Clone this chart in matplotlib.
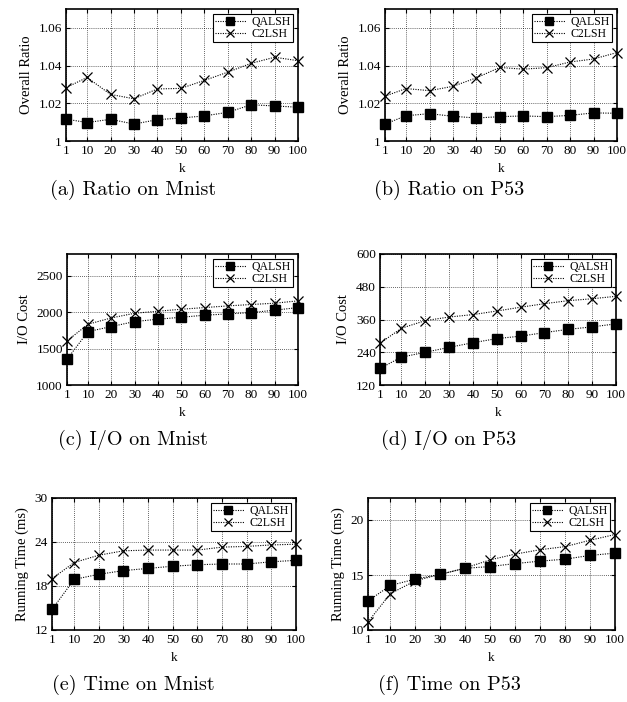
import matplotlib
matplotlib.use('Agg')
import matplotlib.pyplot as plt

# ---------------- data ----------------
k = [1, 10, 20, 30, 40, 50, 60, 70, 80, 90, 100]
xtick_labels = ['1', '10', '20', '30', '40', '50', '60', '70', '80', '90', '100']

ratio_mnist_qalsh = [1.0116, 1.0098, 1.0115, 1.0090, 1.0113, 1.0122, 1.0133, 1.0152, 1.0192, 1.0186, 1.0179]
ratio_mnist_c2lsh = [1.0283, 1.0337, 1.0247, 1.0224, 1.0276, 1.0279, 1.0321, 1.0365, 1.0412, 1.0444, 1.0426]

ratio_p53_qalsh = [1.0090, 1.0134, 1.0145, 1.0131, 1.0122, 1.0129, 1.0133, 1.0129, 1.0136, 1.0149, 1.0147]
ratio_p53_c2lsh = [1.0238, 1.0278, 1.0267, 1.0290, 1.0335, 1.0390, 1.0381, 1.0389, 1.0419, 1.0435, 1.0469]

io_mnist_qalsh = [1353, 1734, 1803, 1872, 1904, 1931, 1959, 1977, 1995, 2028, 2064]
io_mnist_c2lsh = [1606, 1835, 1922, 1986, 2014, 2041, 2064, 2087, 2106, 2124, 2156]

io_p53_qalsh = [181, 222, 240, 258, 275, 290, 299, 312, 324, 333, 344]
io_p53_c2lsh = [273, 328, 356, 369, 378, 391, 405, 418, 429, 436, 445]

time_mnist_qalsh = [14.8, 18.9, 19.6, 20.1, 20.4, 20.7, 20.9, 21.0, 21.0, 21.3, 21.5]
time_mnist_c2lsh = [19.0, 21.2, 22.2, 22.8, 22.9, 22.9, 22.9, 23.3, 23.4, 23.6, 23.7]

time_p53_qalsh = [12.64, 14.05, 14.63, 15.06, 15.61, 15.77, 16.04, 16.26, 16.44, 16.78, 16.99]
time_p53_c2lsh = [10.74, 13.31, 14.48, 15.06, 15.64, 16.38, 16.90, 17.30, 17.58, 18.16, 18.68]

series_names = ['QALSH', 'C2LSH']

ratio_ticks = [1, 1.02, 1.04, 1.06]
ratio_ticklabels = ['1', '1.02', '1.04', '1.06']
io_mnist_ticks = [1000, 1500, 2000, 2500]
io_p53_ticks = [120, 240, 360, 480, 600]
time_mnist_ticks = [12, 18, 24, 30]
time_p53_ticks = [10, 15, 20]

captions = ['(a) Ratio on Mnist', '(b) Ratio on P53', '(c) I/O on Mnist',
            '(d) I/O on P53', '(e) Time on Mnist', '(f) Time on P53']

# ---------------- layout ----------------
W, H = 627, 702
fig = plt.figure(figsize=(W / 100, H / 100), dpi=100)

SERIF = ['Liberation Serif', 'DejaVu Serif']
TICK_FS = 9.5
LABEL_FS = 10.5


def add_ax(l, r, t, b):
    return fig.add_axes([l / W, 1 - b / H, (r - l) / W, (b - t) / H])


panels = [
    dict(box=(66, 298, 9, 141), q=ratio_mnist_qalsh, c=ratio_mnist_c2lsh, ylim=(1, 1.07),
         yt=ratio_ticks, ytl=ratio_ticklabels, ylabel='Overall Ratio'),
    dict(box=(385, 617, 9, 141), q=ratio_p53_qalsh, c=ratio_p53_c2lsh, ylim=(1, 1.07),
         yt=ratio_ticks, ytl=ratio_ticklabels, ylabel='Overall Ratio'),
    dict(box=(67, 298, 254, 385), q=io_mnist_qalsh, c=io_mnist_c2lsh, ylim=(1000, 2800),
         yt=io_mnist_ticks, ytl=[str(v) for v in io_mnist_ticks], ylabel='I/O Cost'),
    dict(box=(380, 616, 254, 385), q=io_p53_qalsh, c=io_p53_c2lsh, ylim=(120, 600),
         yt=io_p53_ticks, ytl=[str(v) for v in io_p53_ticks], ylabel='I/O Cost'),
    dict(box=(52, 296, 498, 630), q=time_mnist_qalsh, c=time_mnist_c2lsh, ylim=(12, 30),
         yt=time_mnist_ticks, ytl=[str(v) for v in time_mnist_ticks], ylabel='Running Time (ms)'),
    dict(box=(368, 615, 498, 630), q=time_p53_qalsh, c=time_p53_c2lsh, ylim=(10, 22),
         yt=time_p53_ticks, ytl=[str(v) for v in time_p53_ticks], ylabel='Running Time (ms)'),
]

caption_x = [133, 449]
caption_y = [190, 440, 685]

dot = (0, (1, 1.2))

for i, p in enumerate(panels):
    l, r, t, b = p['box']
    ax = add_ax(l, r, t, b)
    ax.plot(k, p['q'], color='black', lw=0.8, ls=dot, marker='s', ms=7,
            mfc='black', mec='black', label=series_names[0], zorder=3, clip_on=False)
    ax.plot(k, p['c'], color='black', lw=0.8, ls=dot, marker='x', ms=7.5,
            mew=0.9, mec='black', label=series_names[1], zorder=3, clip_on=False)
    ax.set_xlim(1, 100)
    ax.set_ylim(*p['ylim'])
    ax.set_xticks(k)
    ax.set_xticklabels(xtick_labels, family=SERIF, fontsize=TICK_FS)
    ax.set_yticks(p['yt'])
    ax.set_yticklabels(p['ytl'], family=SERIF, fontsize=TICK_FS)
    ax.tick_params(direction='in', length=3, width=0.8, top=True, right=True, pad=3)
    ax.grid(True, color='black', lw=0.6, ls=(0, (1, 1.5)), alpha=0.8)
    for s in ax.spines.values():
        s.set_linewidth(1.2)
    ax.set_xlabel('k', family=SERIF, fontsize=TICK_FS, labelpad=4)
    ax.set_ylabel(p['ylabel'], family=SERIF, fontsize=LABEL_FS, labelpad=4)
    leg = ax.legend(loc='upper right', prop=dict(family=SERIF, size=8.5),
                    frameon=True, fancybox=False, framealpha=1, edgecolor='black',
                    borderpad=0.15, handlelength=2.6, handletextpad=0.5,
                    labelspacing=0.0, borderaxespad=0.45, markerscale=0.8)
    leg.get_frame().set_linewidth(0.8)
    leg.set_zorder(5)

    row, col = divmod(i, 2)
    fig.text(caption_x[col] / W, 1 - caption_y[row] / H, captions[i],
             ha='center', va='center', family=['cmr10', 'DejaVu Serif'], fontsize=14.5)

fig.savefig('out.png', dpi=100)
